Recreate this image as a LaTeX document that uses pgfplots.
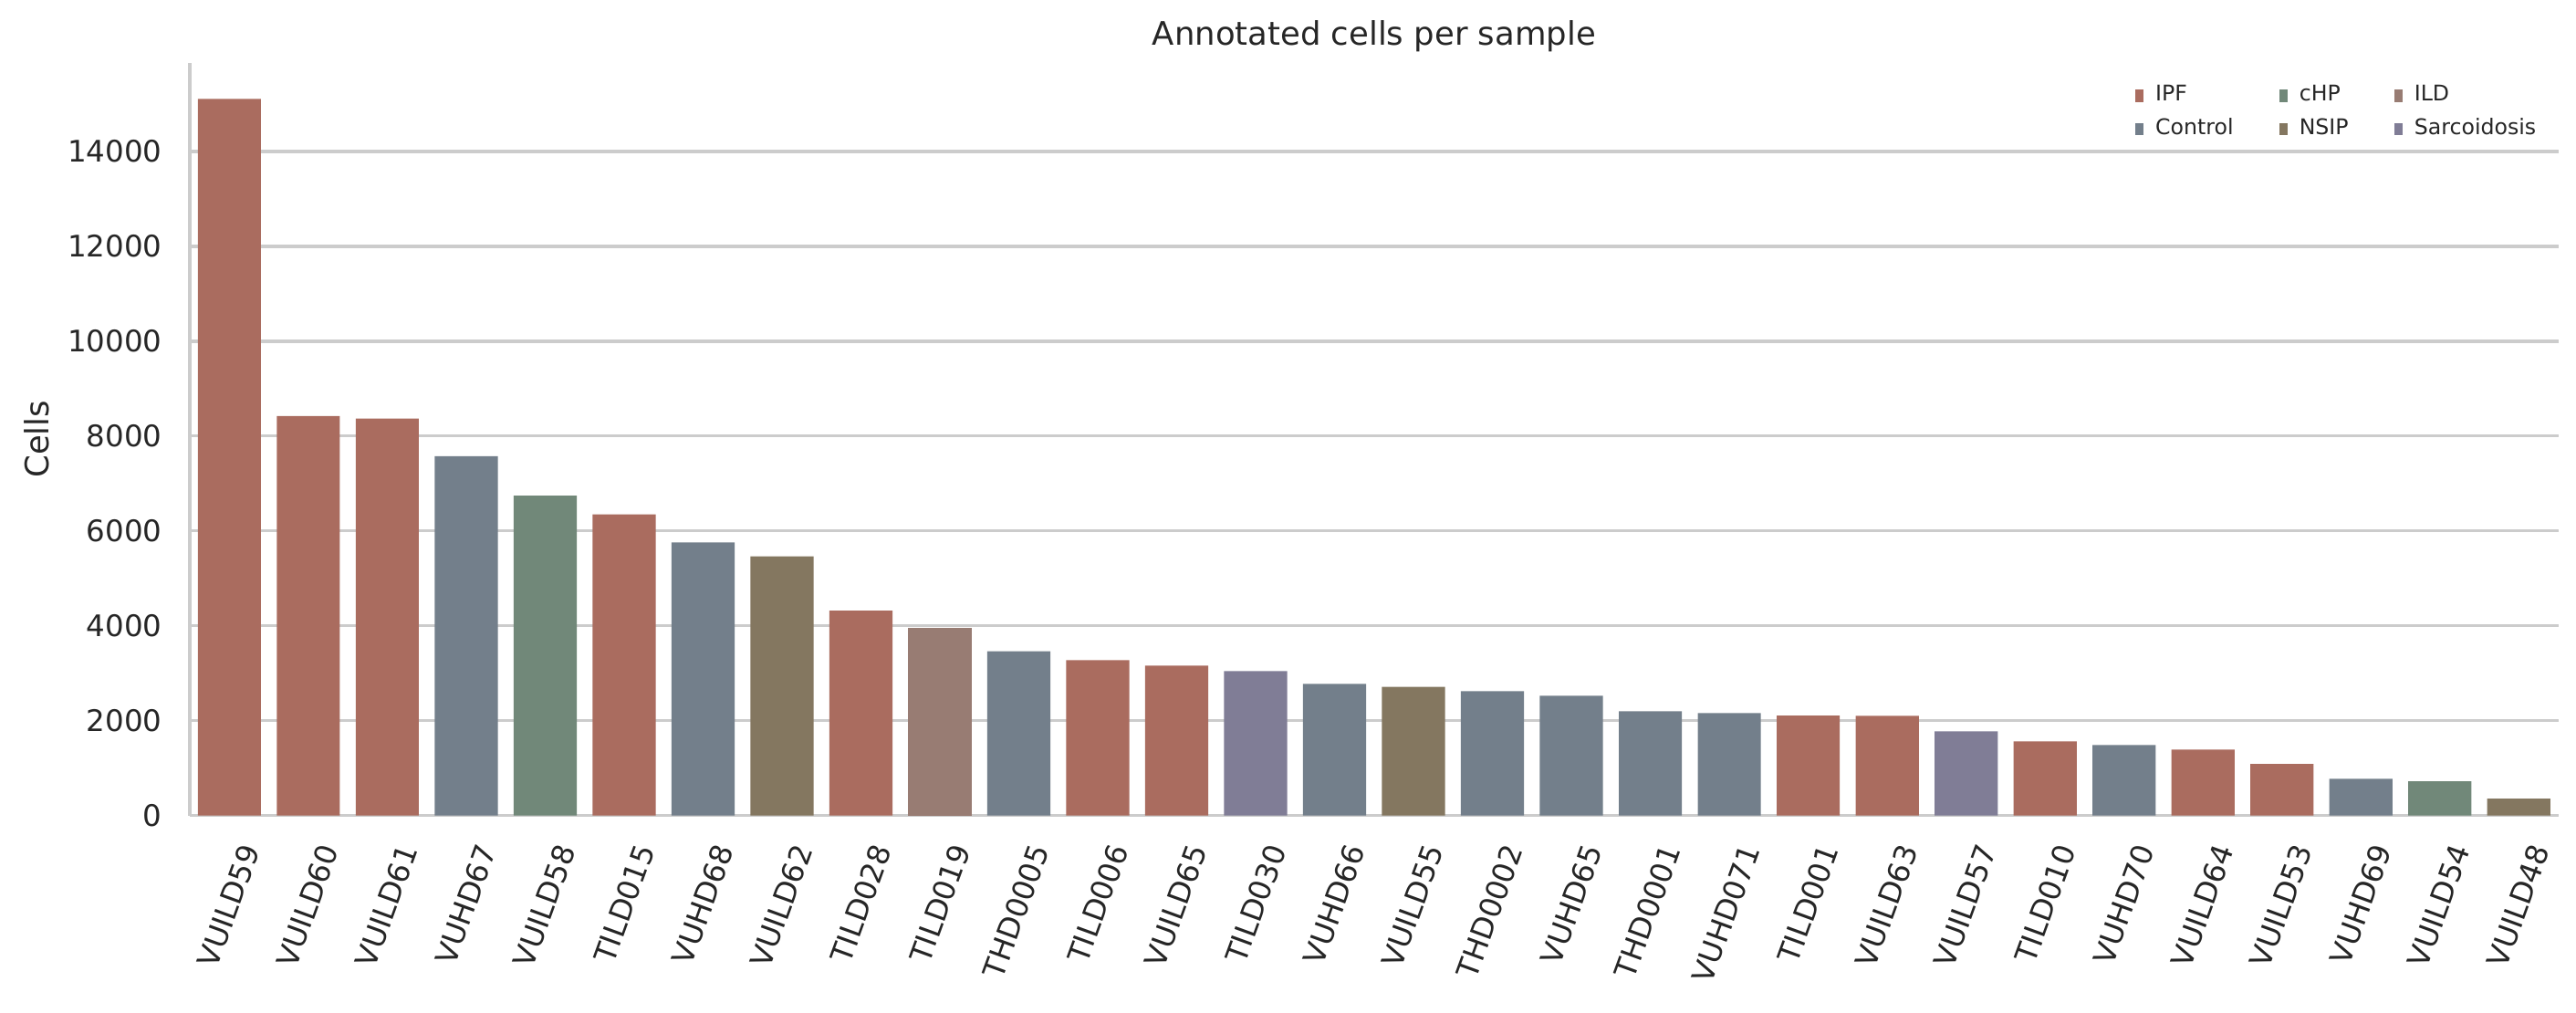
\documentclass[border=0pt]{standalone}
\usepackage{fontspec}
\setmainfont{DejaVu Sans}
\usepackage{pgfplots}
\pgfplotsset{compat=1.18}

\definecolor{ipf}{HTML}{AA6C5F}
\definecolor{ctrl}{HTML}{737F8B}
\definecolor{chp}{HTML}{718879}
\definecolor{nsip}{HTML}{847760}
\definecolor{ild}{HTML}{987C73}
\definecolor{sarc}{HTML}{807D96}
\definecolor{txt}{HTML}{262626}
\definecolor{gridc}{HTML}{CCCCCC}

\begin{document}
\begin{tikzpicture}
\path[use as bounding box] (-70.4pt,-73.1pt) rectangle (884.6pt,302.3pt);
\begin{axis}[
    at={(0,0)}, anchor=south west,
    scale only axis,
    width=878pt, height=279pt,
    xmin=-0.5, xmax=29.5,
    ymin=0, ymax=15870,
    axis x line*=bottom, axis y line*=left,
    axis line style={draw=gridc, line width=1.1pt, -},
    ymajorgrids,
    grid style={draw=gridc, line width=1.1pt},
    major tick length=0pt,
    ytick={0,2000,...,14000},
    scaled y ticks=false,
    /pgf/number format/1000 sep={},
    /pgf/number format/assume math mode=true,
    xtick={0,...,29},
    xticklabels={VUILD59,VUILD60,VUILD61,VUHD67,VUILD58,TILD015,VUHD68,VUILD62,TILD028,TILD019,
      THD0005,TILD006,VUILD65,TILD030,VUHD66,VUILD55,THD0002,VUHD65,THD0001,VUHD071,
      TILD001,VUILD63,VUILD57,TILD010,VUHD70,VUILD64,VUILD53,VUHD69,VUILD54,VUILD48},
    tick label style={font=\fontsize{11}{13}\selectfont, text=txt},
    xticklabel style={xshift=9pt, yshift=-8pt, rotate=70, anchor=east},
    yticklabel style={xshift=-6.8pt},
    ylabel={Cells},
    every axis y label/.style={at={(axis description cs:-0.0648,0.5)}, rotate=90, anchor=center,
      font=\fontsize{12}{14}\selectfont, text=txt},
    title={Annotated cells per sample},
    every axis title/.style={at={(axis description cs:0.5,1)}, anchor=center, yshift=10pt,
      font=\fontsize{12}{14}\selectfont, text=txt},
    legend columns=3,
    legend cell align=left,
    legend image code/.code={\fill[#1] (0pt,-2.25pt) rectangle (3pt,2.25pt);},
    legend style={at={(1,1)}, anchor=north east, xshift=-8pt, yshift=-8pt,
      draw=none, fill=none, inner sep=0pt, row sep=4.4pt,
      font=\fontsize{8}{9.6}\selectfont, text=txt,
      nodes={inner xsep=0pt, inner ysep=0pt, text height=6pt, text depth=2pt},
      /tikz/every odd column/.append style={column sep=4.4pt},
      /tikz/every even column/.append style={column sep=17pt}},
]

% IPF
\addplot[ybar, bar width=0.8, fill=ipf, draw=none] coordinates {
    (0,15110) (1,8425) (2,8370) (5,6350) (8,4320) (11,3275) (12,3160)
    (20,2105) (21,2100) (23,1565) (25,1390) (26,1085)
};
% cHP
\addplot[ybar, bar width=0.8, fill=chp, draw=none] coordinates {
    (4,6745) (28,720)
};
% ILD
\addplot[ybar, bar width=0.8, fill=ild, draw=none] coordinates {
    (9,3965)
};
% Control
\addplot[ybar, bar width=0.8, fill=ctrl, draw=none] coordinates {
    (3,7575) (6,5760) (10,3465) (14,2775) (16,2620) (17,2525) (18,2200)
    (19,2160) (24,1485) (27,775)
};
% NSIP
\addplot[ybar, bar width=0.8, fill=nsip, draw=none] coordinates {
    (7,5465) (15,2715) (29,355)
};
% Sarcoidosis
\addplot[ybar, bar width=0.8, fill=sarc, draw=none] coordinates {
    (13,3045) (22,1775)
};

\legend{IPF, cHP, ILD, Control, NSIP, Sarcoidosis}
\end{axis}
\end{tikzpicture}
\end{document}
